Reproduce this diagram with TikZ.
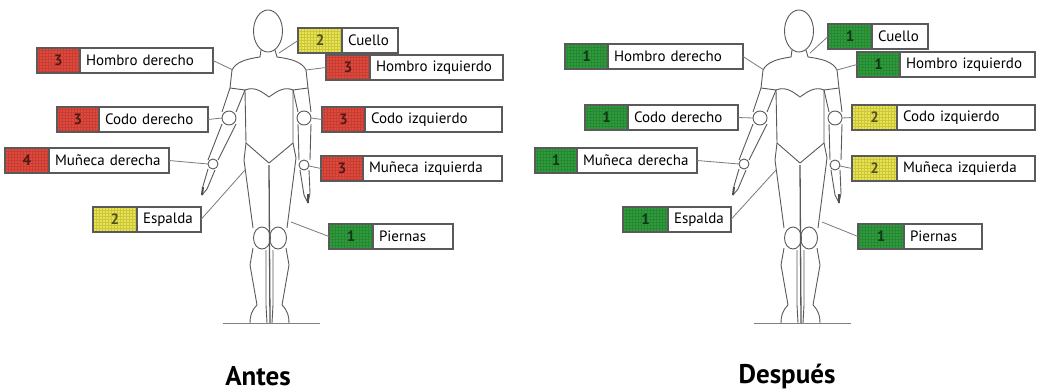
\documentclass[tikz,border=0pt]{standalone}
\usepackage{fontspec}
\setmainfont{PT Sans}
\usetikzlibrary{positioning}

\definecolor{rojo}{HTML}{E2483B}
\definecolor{amarillo}{HTML}{E9E34C}
\definecolor{verde}{HTML}{2E9C3C}
\definecolor{borde}{HTML}{5A5A5A}
\definecolor{linea}{HTML}{7A7A7A}

\begin{document}
\begin{tikzpicture}[x=1pt,y=-1pt,
	nivel/.style={draw=borde,line width=1.1pt,fill=#1,minimum height=25pt,inner sep=0pt,outer sep=0pt,anchor=north west,
		font=\fontsize{15}{15}\selectfont\bfseries,text=#1!35!black,
		path picture={\draw[#1!75!black,line width=0.3pt,opacity=0.5,step=3pt] (path picture bounding box.south west) grid (path picture bounding box.north east);}},
	zona/.style={draw=borde,line width=1.1pt,fill=white,minimum height=25pt,inner xsep=6pt,inner ysep=0pt,outer sep=0pt,
		text width=#1,align=left,font=\fontsize{15}{16}\selectfont},
	guia/.style={draw=linea,line width=0.8pt},
	trazo/.style={draw=black!65,line width=0.9pt,line join=round},
	titulo/.style={font=\fontsize{27}{27}\selectfont\bfseries}]
	\useasboundingbox[fill=white] (0,0) rectangle (1048,391);
	% figura humana, antes y despues
	\foreach \dx/\p in {0/a,531/d}{
		\begin{scope}[xshift=\dx pt]
			\draw[trazo] (268,31) ellipse [x radius=14.5, y radius=21];
			\draw[trazo] (261,50) -- (260,57) .. controls (246,59) and (236,62) .. (232,70) -- (230,88) -- (222,112);
			\draw[trazo] (275,50) -- (277,57) .. controls (292,59) and (302,62) .. (306,70) -- (308,88) -- (311,112);
			\draw[trazo] (230,88) -- (245,90) -- (236,112);
			\draw[trazo] (308,88) -- (293,90) -- (298,112);
			\draw[trazo] (229,118) circle [radius=7];
			\draw[trazo] (304,118) circle [radius=7];
			\draw[trazo] (222,124) -- (208,160) (236,124) -- (218,160);
			\draw[trazo] (298,124) -- (299,160) (311,124) -- (310,160);
			\draw[trazo] (213,164) circle [radius=5];
			\draw[trazo] (304,165) circle [radius=5];
			\draw[trazo] (208,169) -- (203,186) -- (202,195) -- (207,189) -- (215,170);
			\draw[line width=2pt,black!70] (203,187) -- (202,195);
			\draw[trazo] (300,170) -- (304,195) -- (308,203) -- (310,193) -- (309,170);
			\draw[line width=2pt,black!70] (308,194) -- (308,203);
			\draw[trazo] (245,90) -- (246,143) -- (269,163) -- (293,143) -- (293,90);
			\draw[trazo] (245,90) .. controls (255,86) and (262,92) .. (269,97) .. controls (276,92) and (284,86) .. (293,90);
			\draw[trazo] (246,143) -- (244,160) -- (253,228);
			\draw[trazo] (293,143) -- (296,158) -- (287,228);
			\draw[trazo,line width=1.3pt] (269,165) -- (270,323);
			\draw[trazo] (262,238) ellipse [x radius=8.5, y radius=11];
			\draw[trazo] (278,238) ellipse [x radius=8.5, y radius=11];
			\draw[trazo] (253,248) -- (250,265) -- (257,305) .. controls (251,311) and (250,317) .. (250,323);
			\draw[trazo] (266,250) -- (266,305) -- (267,323);
			\draw[trazo] (273,250) -- (273,305) -- (272,323);
			\draw[trazo] (286,248) -- (289,265) -- (282,305) .. controls (288,311) and (289,317) .. (289,323);
			\draw[black!50,line width=1pt] (223,323) -- (320,323);
			\coordinate (\p-cue) at (279,53);
			\coordinate (\p-hde) at (233,70);
			\coordinate (\p-hiz) at (306,70);
			\coordinate (\p-cde) at (222,118);
			\coordinate (\p-ciz) at (311,118);
			\coordinate (\p-mde) at (208,164);
			\coordinate (\p-miz) at (309,166);
			\coordinate (\p-esp) at (245,170);
			\coordinate (\p-pie) at (291,222);
		\end{scope}
	}
	% antes
	\node[nivel=amarillo,minimum width=44pt] (a-cue1) at (298,28) {2};
	\node[zona=44pt,right=0pt of a-cue1] (a-cue2) {Cuello};
	\node[nivel=rojo,minimum width=43pt] (a-hde1) at (37,48) {3};
	\node[zona=121pt,right=0pt of a-hde1] (a-hde2) {Hombro derecho};
	\node[nivel=rojo,minimum width=44pt] (a-hiz1) at (326,55) {3};
	\node[zona=121pt,right=0pt of a-hiz1] (a-hiz2) {Hombro izquierdo};
	\node[nivel=rojo,minimum width=42pt] (a-cde1) at (57,107) {3};
	\node[zona=97pt,right=0pt of a-cde1] (a-cde2) {Codo derecho};
	\node[nivel=rojo,minimum width=43pt] (a-ciz1) at (322,107) {3};
	\node[zona=125pt,right=0pt of a-ciz1] (a-ciz2) {Codo izquierdo};
	\node[nivel=rojo,minimum width=44pt] (a-mde1) at (5,148) {4};
	\node[zona=108pt,right=0pt of a-mde1] (a-mde2) {Muñeca derecha};
	\node[nivel=rojo,minimum width=42pt] (a-miz1) at (321,156) {3};
	\node[zona=127pt,right=0pt of a-miz1] (a-miz2) {Muñeca izquierda};
	\node[nivel=amarillo,minimum width=44pt] (a-esp1) at (93,207) {2};
	\node[zona=52pt,right=0pt of a-esp1] (a-esp2) {Espalda};
	\node[nivel=verde,minimum width=44pt] (a-pie1) at (329,224) {1};
	\node[zona=68pt,right=0pt of a-pie1] (a-pie2) {Piernas};
	\draw[guia] (a-cue1.west) -- (a-cue);
	\draw[guia] (a-hde2.east) -- (a-hde);
	\draw[guia] (a-hiz1.west) -- (a-hiz);
	\draw[guia] (a-cde2.east) -- (a-cde);
	\draw[guia] (a-ciz1.west) -- (a-ciz);
	\draw[guia] (a-mde2.east) -- (a-mde);
	\draw[guia] (a-miz1.west) -- (a-miz);
	\draw[guia] (a-esp2.east) -- (a-esp);
	\draw[guia] (a-pie1.west) -- (a-pie);
	% despues
	\node[nivel=verde,minimum width=44pt] (d-cue1) at (828,24) {1};
	\node[zona=44pt,right=0pt of d-cue1] (d-cue2) {Cuello};
	\node[nivel=verde,minimum width=43pt] (d-hde1) at (565,44) {1};
	\node[zona=123pt,right=0pt of d-hde1] (d-hde2) {Hombro derecho};
	\node[nivel=verde,minimum width=43pt] (d-hiz1) at (857,52) {1};
	\node[zona=123pt,right=0pt of d-hiz1] (d-hiz2) {Hombro izquierdo};
	\node[nivel=verde,minimum width=43pt] (d-cde1) at (585,105) {1};
	\node[zona=98pt,right=0pt of d-cde1] (d-cde2) {Codo derecho};
	\node[nivel=amarillo,minimum width=45pt] (d-ciz1) at (852,105) {2};
	\node[zona=126pt,right=0pt of d-ciz1] (d-ciz2) {Codo izquierdo};
	\node[nivel=verde,minimum width=42pt] (d-mde1) at (535,148) {1};
	\node[zona=108pt,right=0pt of d-mde1] (d-mde2) {Muñeca derecha};
	\node[nivel=amarillo,minimum width=45pt] (d-miz1) at (852,156) {2};
	\node[zona=126pt,right=0pt of d-miz1] (d-miz2) {Muñeca izquierda};
	\node[nivel=verde,minimum width=45pt] (d-esp1) at (623,207) {1};
	\node[zona=51pt,right=0pt of d-esp1] (d-esp2) {Espalda};
	\node[nivel=verde,minimum width=46pt] (d-pie1) at (858,224) {1};
	\node[zona=66pt,right=0pt of d-pie1] (d-pie2) {Piernas};
	\draw[guia] (d-cue1.west) -- (d-cue);
	\draw[guia] (d-hde2.east) -- (d-hde);
	\draw[guia] (d-hiz1.west) -- (d-hiz);
	\draw[guia] (d-cde2.east) -- (d-cde);
	\draw[guia] (d-ciz1.west) -- (d-ciz);
	\draw[guia] (d-mde2.east) -- (d-mde);
	\draw[guia] (d-miz1.west) -- (d-miz);
	\draw[guia] (d-esp2.east) -- (d-esp);
	\draw[guia] (d-pie1.west) -- (d-pie);
	\node[titulo] (antes) at (258,376) {Antes};
	\node[titulo] (despues) at (787,376) {Después};
\end{tikzpicture}
\end{document}
